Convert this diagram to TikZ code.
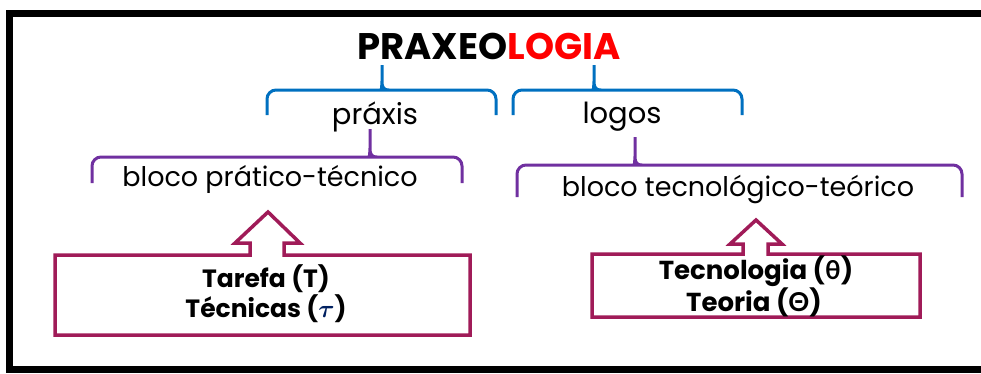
\documentclass[tikz,border=0pt]{standalone}
\usepackage{amsmath}
\usepackage{fontspec}
\setmainfont{Poppins}
\newfontfamily\gregofont{Lato}
\usepackage{tikz}

\definecolor{azulchave}{RGB}{0,112,192}
\definecolor{roxochave}{RGB}{112,48,160}
\definecolor{vinho}{RGB}{160,27,88}
\definecolor{vermelho}{RGB}{255,0,0}
\definecolor{azultau}{RGB}{0,32,96}

% chave: cor, x esq, x dir, x ponta, y horizontal, y pontas, y topo
\newcommand{\chave}[7]{%
  \draw[#1, line width=3pt, rounded corners=9pt] (#2,#6) -- (#2,#5) -- (#4-7,#5)
    [sharp corners] .. controls (#4-2,#5) and (#4,#5-2) .. (#4,#5-9) -- (#4,#7)
    (#4,#5-9) .. controls (#4,#5-2) and (#4+2,#5) .. (#4+7,#5)
    [rounded corners=9pt] -- (#3,#5) -- (#3,#6);}

\begin{document}
\begin{tikzpicture}[x=1pt,y=-1pt,
  titulo/.style={anchor=base,font=\fontsize{37}{40}\selectfont\bfseries},
  rotulo/.style={anchor=base,font=\fontsize{29}{32}\selectfont},
  bloco/.style={anchor=base,font=\fontsize{27}{30}\selectfont},
  caixatxt/.style={anchor=base,font=\fontsize{25}{28}\selectfont\bfseries},
  caixa/.style={vinho,line width=3.5pt,line join=miter}]
\useasboundingbox (0,0) rectangle (981,373);
% moldura
\draw[line width=7pt] (981,13.5) -- (9.5,13.5) -- (9.5,369.5) -- (981,369.5);
% textos
\node[titulo] (titulo) at (489,59) {PRAXEO\textcolor{vermelho}{LOGIA}};
\node[rotulo] (praxis) at (375,124) {práxis};
\node[rotulo] (logos) at (622,123) {logos};
\node[bloco] (pratico) at (270,186) {bloco prático-técnico};
\node[bloco] (teorico) at (738,196) {bloco tecnológico-teórico};
% chaves
\chave{azulchave}{267}{496}{382}{90}{115}{65}
\chave{azulchave}{513}{742}{594}{90}{115}{65}
\chave{roxochave}{92}{462}{370}{157}{183}{129}
\chave{roxochave}{517}{962}{635}{165}{197}{137}
% caixas com seta
\draw[caixa] (55,255) -- (250,255) -- (250,243) -- (235,243) -- (268,212) -- (300,243)
  -- (284,243) -- (284,255) -- (470,255) -- (470,335) -- (55,335) -- cycle;
\draw[caixa] (592,254) -- (743,254) -- (743,244) -- (730,244) -- (756,220) -- (782,244)
  -- (768,244) -- (768,254) -- (920,254) -- (920,317) -- (592,317) -- cycle;
\node[caixatxt] (tarefa) at (266,287) {Tarefa (T)};
\node[caixatxt] (tecnicas) at (266,317) {Técnicas ({\color{azultau}$\boldsymbol{\tau}$})};
\node[caixatxt,font=\fontsize{26}{28}\selectfont\bfseries] (tecnologia) at (756,279) {Tecnologia ({\gregofont θ})};
\node[caixatxt,font=\fontsize{26}{28}\selectfont\bfseries] (teoria) at (754,311) {Teoria ({\gregofont Θ})};
\end{tikzpicture}
\end{document}
